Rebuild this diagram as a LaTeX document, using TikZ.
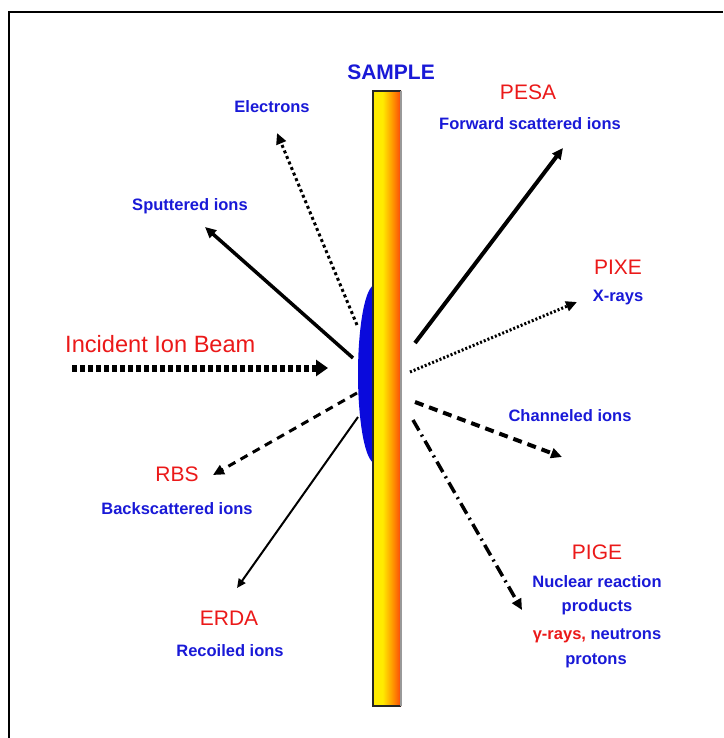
\documentclass[tikz,border=0pt]{standalone}
\usepackage{fontspec}
\setmainfont{Liberation Sans}
\usetikzlibrary{arrows.meta}
\definecolor{lblue}{RGB}{25,25,215}
\definecolor{lred}{RGB}{235,25,25}
\definecolor{barY}{RGB}{255,235,0}
\definecolor{barO}{RGB}{255,150,0}
\definecolor{barR}{RGB}{250,70,10}
\definecolor{lensblue}{RGB}{10,10,220}
\pgfdeclarehorizontalshading{barshade}{100bp}{color(0bp)=(barY); color(25bp)=(barY); color(42bp)=(barY); color(60bp)=(barO); color(75bp)=(barR); color(100bp)=(barR)}
\begin{document}
\begin{tikzpicture}[x=1pt,y=-1pt,
  blab/.style={text=lblue, font=\fontsize{16.5}{19}\selectfont\bfseries, inner sep=0pt, anchor=base},
  rlab/.style={text=lred, font=\fontsize{21}{24}\selectfont, inner sep=0pt, anchor=base},
  ray/.style={draw=black, line width=3pt, -{Triangle[length=11pt,width=10pt]}},
  dotray/.style={ray, dash pattern=on 3pt off 3pt},
  fineray/.style={ray, dash pattern=on 2pt off 2pt},
  dashray/.style={ray, dash pattern=on 9pt off 6pt},
  dashdotray/.style={ray, dash pattern=on 12pt off 5pt on 2pt off 5pt},
  thinray/.style={draw=black, line width=2pt, -{Triangle[length=9pt,width=8pt]}},
  beam/.style={draw=black, line width=7pt, dash pattern=on 5pt off 3pt, -{Triangle[length=12pt,width=16pt]}}
]
\useasboundingbox (0,0) rectangle (723,738);
\fill[white] (0,0) rectangle (723,738);
% frame (only top and left edges are visible)
\draw[line width=2.5pt, black] (9,738) -- (9,12) -- (723,12);

% blue lens
\fill[lensblue] (375,285) arc[start angle=90, end angle=270, x radius=17pt, y radius=89pt] -- cycle;
% sample bar
\shade[shading=barshade] (373,91) rectangle (401,706);
\draw[line width=1.2pt, black!85] (401,91) -- (373,91) -- (373,706) -- (401,706);
\draw[line width=1.2pt, black!40] (401,91) -- (401,706);

% coordinates
\coordinate (beamT) at (72,368);   \coordinate (beamH) at (328,368);
\coordinate (elT) at (357,325);    \coordinate (elH) at (277,133);
\coordinate (spT) at (353,358);    \coordinate (spH) at (205,227);
\coordinate (peT) at (415,343);    \coordinate (peH) at (563,148);
\coordinate (pxT) at (410,372);    \coordinate (pxH) at (577,302);
\coordinate (chT) at (415,402);    \coordinate (chH) at (562,457);
\coordinate (pgT) at (413,420);    \coordinate (pgH) at (522,610);
\coordinate (rbT) at (357,393);    \coordinate (rbH) at (213,475);
\coordinate (erT) at (358,417);    \coordinate (erH) at (237,588);

% arrows
\draw[beam] (beamT) -- (beamH);
\draw[dotray] (elT) -- (elH);
\draw[ray, line width=3.5pt] (spT) -- (spH);
\draw[ray, line width=4pt] (peT) -- (peH);
\draw[fineray] (pxT) -- (pxH);
\draw[dashray, line width=4pt] (chT) -- (chH);
\draw[dashdotray, line width=3.5pt] (pgT) -- (pgH);
\draw[dashray, line width=3pt, dash pattern=on 8pt off 6pt] (rbT) -- (rbH);
\draw[thinray] (erT) -- (erH);

% labels
\node[blab, font=\fontsize{21}{24}\selectfont\bfseries] (sample) at (391,79.5) {SAMPLE};
\node[blab] (electrons) at (272,113) {Electrons};
\node[blab] (sputtered) at (190,210) {Sputtered ions};
\node[rlab] (pesa) at (528,100) {PESA};
\node[blab] (forward) at (530,130) {Forward scattered ions};
\node[rlab] (pixe) at (618,274) {PIXE};
\node[blab] (xrays) at (618,301) {X-rays};
\node[text=lred, font=\fontsize{23.6}{27}\selectfont, inner sep=0pt, anchor=base west] (incident) at (65,352) {Incident Ion Beam};
\node[blab] (channeled) at (570,421) {Channeled ions};
\node[rlab] (rbs) at (177,481) {RBS};
\node[blab] (backsc) at (177,514) {Backscattered ions};
\node[rlab] (erda) at (229,625) {ERDA};
\node[blab] (recoiled) at (230,656) {Recoiled ions};
\node[rlab] (pige) at (597,559) {PIGE};
\node[blab] (nuclear) at (597,587) {Nuclear reaction};
\node[blab] (products) at (597,611) {products};
\node[blab] (gamma) at (597,639) {\textcolor{lred}{γ-rays,} neutrons};
\node[blab] (protons) at (596,664) {protons};
\end{tikzpicture}
\end{document}
